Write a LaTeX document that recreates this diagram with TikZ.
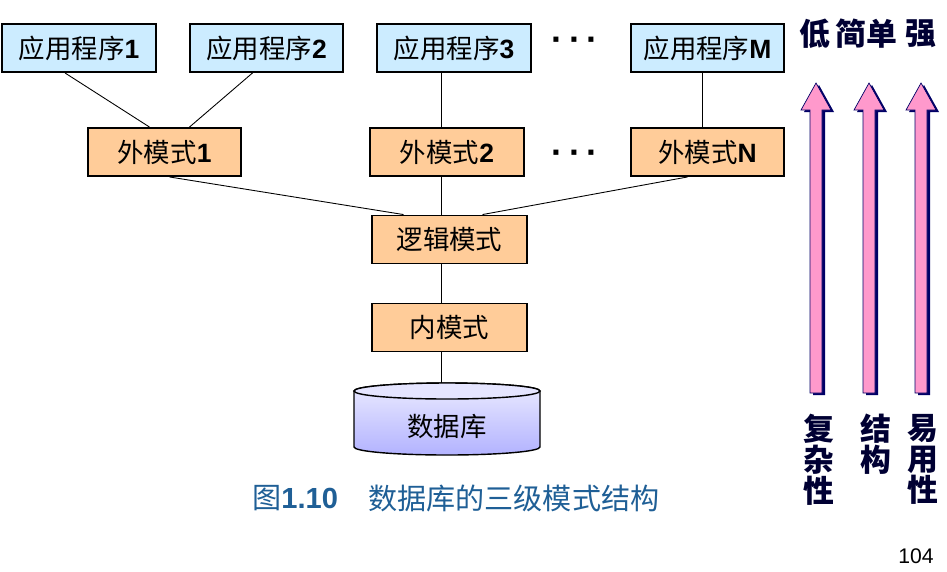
\documentclass[tikz,border=0pt]{standalone}
\usepackage{fontspec}
\setmainfont{Liberation Sans}
\newfontfamily\cjk{Noto Sans CJK SC}
\usetikzlibrary{calc}
\definecolor{appblue}{HTML}{CCECFF}
\definecolor{schemaorange}{HTML}{FFCC99}
\definecolor{arrowpink}{HTML}{FF99CC}
\definecolor{shadownavy}{HTML}{000066}
\definecolor{labelnavy}{HTML}{000033}
\definecolor{captionblue}{HTML}{1F5F96}
\newcommand\nr[1]{{\rmfamily\bfseries #1}}
\tikzset{
  box/.style={draw, line width=1.1pt, minimum width=86.8pt, minimum height=27.2pt,
    inner sep=0pt, font=\cjk\fontsize{15}{16}\selectfont},
  appbox/.style={box, fill=appblue},
  schemabox/.style={box, fill=schemaorange},
  link/.style={line width=0.5pt},
  sidelabel/.style={text=labelnavy, inner sep=0pt, align=center,
    font=\cjk\bfseries\fontsize{17.5}{17.6}\selectfont},
  dots/.style={font=\bfseries\fontsize{20}{20}\selectfont}
}
\begin{document}
\begin{tikzpicture}[x=0.567pt, y=-0.567pt]
\useasboundingbox (0,0) rectangle (947,571);

\node[appbox] (app1) at (79,48) {应用程序\nr{1}};
\node[appbox] (app2) at (266.5,48) {应用程序\nr{2}};
\node[appbox] (app3) at (454,48) {应用程序\nr{3}};
\node[appbox] (appM) at (707.5,48) {应用程序\nr{M}};
\node[dots] (dotsA) at (575,44) {·\,·\,·};

\node[schemabox] (ext1) at (164.5,152) {外模式\nr{1}};
\node[schemabox] (ext2) at (447,152) {外模式\nr{2}};
\node[schemabox] (extN) at (707.5,152) {外模式\nr{N}};
\node[dots] (dotsB) at (575,157) {·\,·\,·};

\node[schemabox, minimum width=87.9pt] (logic) at (449.5,239.5) {逻辑模式};
\node[schemabox, minimum width=87.9pt] (inner) at (449.5,327.5) {内模式};

\shade[top color=blue!8, bottom color=blue!30, draw, line width=0.8pt]
  (354,391) -- (354,447) arc[start angle=180, end angle=0, x radius=93, y radius=8]
  -- (540,391) arc[start angle=0, end angle=-180, x radius=93, y radius=8] -- cycle;
\filldraw[fill=blue!10, line width=0.8pt] (447,391) ellipse[x radius=93, y radius=8];
\node[font=\cjk\fontsize{15}{16}\selectfont] (db) at (447,426) {数据库};
\coordinate (dbtop) at (441,383);

\draw[link] ($(app1.south)+(-14,0)$) -- ($(ext1.north)+(-15,0)$);
\draw[link] ($(app2.south)+(-14,0)$) -- ($(ext1.north)+(25,0)$);
\draw[link] (app3.south -| dbtop) -- (ext2.north -| dbtop);
\draw[link] ($(appM.south)+(-5,0)$) -- ($(extN.north)+(-5,0)$);
\draw[link] ($(ext1.south)+(5,0)$) -- ($(logic.north)+(-46,0)$);
\draw[link] (ext2.south -| dbtop) -- (logic.north -| dbtop);
\draw[link] ($(extN.south)+(-20,0)$) -- ($(logic.north)+(33,0)$);
\draw[link] (logic.south -| dbtop) -- (inner.north -| dbtop);
\draw[link] (inner.south -| dbtop) -- (dbtop);

\foreach \ax in {816,869,921}{
  \fill[shadownavy, shift={(3,2)}] (\ax-6,393) -- (\ax-6,110) -- (\ax-15,110) -- (\ax,83)
    -- (\ax+15,110) -- (\ax+6,110) -- (\ax+6,393) -- cycle;
  \filldraw[fill=arrowpink, draw=shadownavy, line width=0.4pt] (\ax-6,393) -- (\ax-6,110)
    -- (\ax-15,110) -- (\ax,83) -- (\ax+15,110) -- (\ax+6,110) -- (\ax+6,393) -- cycle;
}

\node[sidelabel] (low) at (815,34) {低};
\node[sidelabel] (simple) at (866,34) {简单};
\node[sidelabel] (strong) at (921,34) {强};
\node[sidelabel, anchor=north] (complex) at (819,414) {复\\杂\\性};
\node[sidelabel, anchor=north] (struct) at (876,414) {结\\构};
\node[sidelabel, anchor=north] (usable) at (923,414) {易\\用\\性};

\node[anchor=west, inner sep=0pt, text=captionblue, font=\fontsize{16.5}{18}\selectfont]
  (fig) at (252,498) {{\cjk 图}\textbf{1.10}};
\node[anchor=west, inner sep=0pt, text=captionblue, font=\cjk\fontsize{16.5}{18}\selectfont]
  (title) at (368,498) {数据库的三级模式结构};
\node[font=\fontsize{12}{14}\selectfont] (page) at (916,556) {104};
\end{tikzpicture}
\end{document}
